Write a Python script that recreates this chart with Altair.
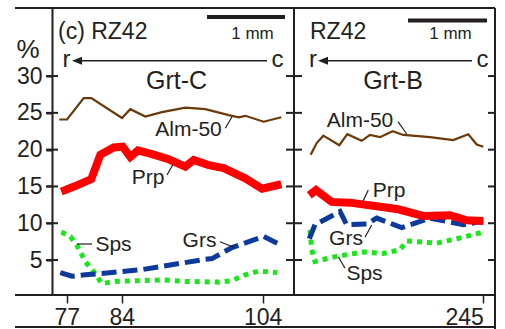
import json
import altair as alt
import pandas as pd

# ---------------- data (x: position along traverse, y: mol %) ----------------
alm_l_x = [7.3, 15, 31.7, 39.3, 70, 78.3, 93.3, 110, 133.3, 153.3, 176.7, 186.7, 193.3, 211.7, 229.3]
alm_l_y = [24.1, 24.1, 27.0, 27.0, 24.3, 25.5, 24.5, 25.1, 25.7, 25.5, 24.7, 24.4, 24.6, 23.8, 24.4]
prp_l_x = [9.3, 23.3, 39.3, 48.3, 61.7, 70.7, 78.3, 86, 100, 116.7, 133.3, 141.7, 156.7, 171.7, 193.3, 210, 229.3]
prp_l_y = [14.3, 15.05, 16.0, 19.3, 20.3, 20.4, 19.0, 19.9, 19.4, 18.7, 17.7, 18.6, 17.9, 17.5, 16.1, 14.7, 15.3]
grs_l_x = [8.3, 20, 33.3, 60, 90, 116.7, 153.3, 160, 180, 211.7, 229.3]
grs_l_y = [3.3, 2.8, 3.0, 3.3, 3.7, 4.3, 5.1, 5.2, 6.7, 8.2, 7.0]
sps_l_x = [9.3, 18.3, 25, 33.3, 41.7, 50, 63.3, 86.7, 111.7, 133.3, 166.7, 180, 193.3, 206.7, 225]
sps_l_y = [8.8, 8.2, 7.0, 4.8, 3.4, 1.8, 2.1, 2.2, 2.3, 2.1, 2.0, 2.2, 3.0, 3.5, 3.3]

alm_r_x = [258.7, 264.7, 271.3, 287.3, 295.3, 309.7, 318, 328, 340.7, 351.3, 378, 401.3, 416.3, 424.7, 431.3]
alm_r_y = [19.3, 20.9, 21.9, 20.6, 22.1, 21.2, 22.0, 21.7, 22.5, 22.0, 21.7, 21.3, 22.1, 20.7, 20.4]
prp_r_x = [257.3, 264, 279.7, 298, 324.7, 346.3, 371.3, 398, 414.7, 431.3]
prp_r_y = [13.8, 14.5, 12.9, 12.8, 12.3, 11.9, 11.0, 11.1, 10.4, 10.3]
grs_r_x = [257.3, 263, 288, 294.7, 314.7, 324.7, 349.7, 378, 411.3, 431.3]
grs_r_y = [7.9, 9.8, 11.6, 9.8, 9.9, 10.7, 9.4, 10.7, 9.8, 10.3]
sps_r_x = [258, 259.7, 263, 284.7, 311.3, 331.3, 348, 354.7, 384.7, 404.7, 431.3]
sps_r_y = [9.1, 6.4, 4.8, 5.5, 6.1, 5.9, 6.4, 7.6, 7.3, 7.9, 8.8]

y_ticks = [5, 10, 15, 20, 25, 30]
x_tick_pos = [14.7, 69.7, 210.7, 431.3]
x_tick_labels = ["77", "84", "104", "245"]

# ---------------- styling ----------------
FONT = "Liberation Sans"
INK = "#231f20"
W, H = 443, 287
X0, Y0 = 52, 8

rows = []
for series, panel, xs, ys in [
    ("Alm", "L", alm_l_x, alm_l_y), ("Alm", "R", alm_r_x, alm_r_y),
    ("Prp", "L", prp_l_x, prp_l_y), ("Prp", "R", prp_r_x, prp_r_y),
    ("Grs", "L", grs_l_x, grs_l_y), ("Grs", "R", grs_r_x, grs_r_y),
    ("Sps", "L", sps_l_x, sps_l_y), ("Sps", "R", sps_r_x, sps_r_y),
]:
    for a, b in zip(xs, ys):
        rows.append({"series": series, "panel": panel, "x": a, "y": b})
df = pd.DataFrame(rows)

xscale = alt.Scale(domain=[0, W], nice=False, zero=False)
yscale = alt.Scale(domain=[0.25, 39.25], nice=False, zero=False)

label_expr = "%s[indexof(%s, datum.value)]" % (json.dumps(x_tick_labels), json.dumps(x_tick_pos))
xaxis = alt.Axis(values=x_tick_pos, labelExpr=label_expr, title=None, grid=False, domain=False,
                 tickSize=8, tickWidth=1.5, tickColor=INK, labelFont=FONT, labelFontSize=23,
                 labelColor=INK, labelPadding=3, labelFlush=13, labelAngle=0)
yaxis = alt.Axis(values=y_ticks, title=None, grid=False, domain=True, domainWidth=2, domainColor=INK,
                 tickSize=6, tickWidth=2, tickColor=INK, labelFont=FONT, labelFontSize=23,
                 labelColor=INK, labelPadding=4)

X = alt.X("x:Q", scale=xscale, axis=xaxis)
Y = alt.Y("y:Q", scale=yscale, axis=yaxis)

one = pd.DataFrame({"a": [0]})


def series_line(name, color, width, dash=None):
    kw = dict(color=color, strokeWidth=width, clip=False)
    if dash:
        kw["strokeDash"] = dash
        kw["strokeCap"] = "butt"
    return alt.Chart(df).transform_filter(alt.datum.series == name).mark_line(**kw).encode(
        x=X, y=Y, detail="panel:N", order="x:Q")


def rule(x1, y1, x2, y2, w=2.0):
    return alt.Chart(one).mark_rule(color=INK, strokeWidth=w).encode(
        x=alt.value(x1 - X0), y=alt.value(y1 - Y0), x2=alt.value(x2 - X0), y2=alt.value(y2 - Y0))


def txt(s, x, y, size, align="center"):
    return alt.Chart(one).mark_text(text=s, font=FONT, fontSize=size, color=INK, align=align,
                                    baseline="alphabetic").encode(
        x=alt.value(x - X0), y=alt.value(y - Y0))


def arrowhead(tip_x, y):
    return alt.Chart(one).mark_point(shape="M -1 0 L 1 -0.8 L 1 0.8 Z", filled=True, size=100,
                                     color=INK, opacity=1, strokeWidth=0).encode(
        x=alt.value(tip_x + 5 - X0), y=alt.value(y - Y0))


tick_df = pd.DataFrame({"y": y_ticks})


def yticks(xa, xb):
    return alt.Chart(tick_df).mark_rule(color=INK, strokeWidth=2).encode(
        y=Y, x=alt.value(xa - X0), x2=alt.value(xb - X0))


layers = [
    series_line("Alm", "#6a3a0a", 2.2),
    series_line("Sps", "#18e818", 5, [5, 5]),
    series_line("Grs", "#0b3a9c", 5, [15, 6]),
    series_line("Prp", "#ff0000", 8),
    # ticks
    yticks(46, 58), yticks(286, 302), yticks(488, 495),
    # frame
    rule(15, 8, 495, 8), rule(15, 295, 495, 295), rule(15, 327, 495, 327),
    rule(495, 8, 495, 329), rule(294, 8, 294, 295),
    # scale bars
    rule(207, 17, 285, 17, 4), rule(408, 20.5, 487, 20.5, 4),
    # arrows
    rule(78, 60.7, 267, 60.7, 1.5), arrowhead(72, 60.7),
    rule(324, 60.7, 472, 60.7, 1.5), arrowhead(318, 60.7),
    # leader lines
    rule(225.3, 128.3, 232, 116.7, 1.2), rule(167, 175, 172.7, 165, 1.2),
    rule(77, 244, 92, 244, 1.2), rule(220, 241.7, 233.7, 247.3, 1.2),
    rule(398, 121.7, 406.7, 134, 1.2), rule(368.3, 190, 362.7, 201.7, 1.2),
    rule(365, 237.3, 371.7, 225, 1.2), rule(338.3, 256.7, 345, 268.3, 1.2),
    # texts
    txt("%", 28, 58, 26),
    txt("(c) RZ42", 58, 39.3, 23, "left"), txt("RZ42", 310, 39, 23, "left"),
    txt("1 mm", 252.5, 39, 17), txt("1 mm", 450.5, 39, 17),
    txt("r", 66.5, 67, 24), txt("c", 277.5, 67, 24), txt("r", 313, 67, 24), txt("c", 482.5, 67, 24),
    txt("Grt-C", 176.5, 89.3, 25), txt("Grt-B", 393, 89, 25),
    txt("Alm-50", 188.5, 136, 21), txt("Prp", 148, 183.8, 21),
    txt("Sps", 113.5, 251, 21), txt("Grs", 199.5, 246.7, 21),
    txt("Alm-50", 360, 126.7, 21), txt("Prp", 389, 197, 21),
    txt("Grs", 346, 245, 21), txt("Sps", 364.5, 280, 21),
]

chart = alt.layer(*layers).properties(
    width=W, height=H,
    autosize=alt.AutoSizeParams(type="none"),
    padding={"left": 52, "top": 8, "right": 10, "bottom": 34},
    background="white",
).configure_view(stroke=None)

chart.save("out.html", embed_options={"renderer": "svg", "actions": False})
